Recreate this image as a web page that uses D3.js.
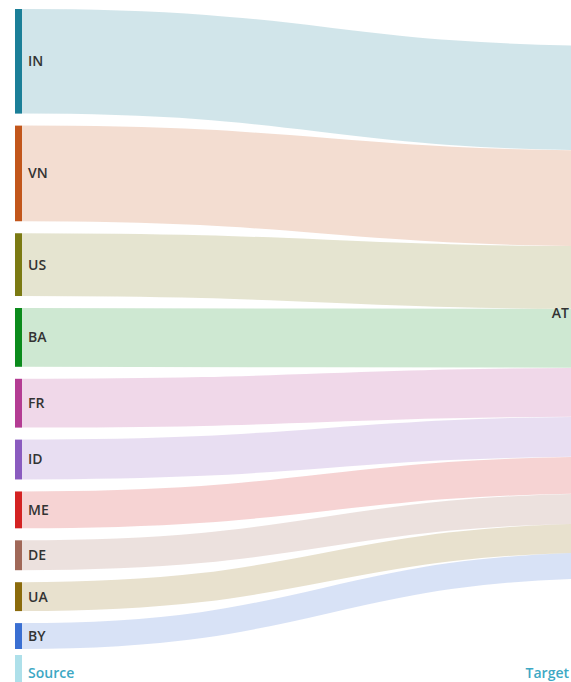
<!DOCTYPE html>
<html>
<head>
<meta charset="utf-8">
<script src="https://cdn.jsdelivr.net/npm/d3@7"></script>
<style>
  html, body { margin: 0; padding: 0; background: #fff; }
  svg { display: block; }
  text { font-family: "Open Sans", "Noto Sans", sans-serif; }
</style>
</head>
<body>
<svg id="chart" width="571" height="682"></svg>
<script>
// ---- data ----
const sources = ["IN", "VN", "US", "BA", "FR", "ID", "ME", "DE", "UA", "BY"];
const values  = [105, 96, 63, 59, 49, 40, 37, 30, 29, 26];
const target  = "AT";
const nodeColors = ["#1b7f98", "#c2561b", "#7b7a13", "#0b8b1c", "#b43c93", "#8a5bbf", "#d42222", "#a06858", "#8b6b0c", "#3a6fd2"];
const axisLabels = ["Source", "Target"];

// ---- layout ----
const svg = d3.select("#chart");
const yTop = 9, yBottom = 649, gap = 12;
const nodeW = 7;
const xSrc = 15, xTgt = 630;

const total = d3.sum(values);
const ky = d3.scaleLinear().domain([0, total]).range([0, (yBottom - yTop) - gap * (sources.length - 1)]);

const nodes = [];
let y = yTop;
sources.forEach((s, i) => {
  const h = ky(values[i]);
  nodes.push({ name: s, value: values[i], color: nodeColors[i], y0: y, y1: y + h });
  y += h + gap;
});

const tgtH = ky(total);
const tgtCenter = 312;
let ty = tgtCenter - tgtH / 2;
nodes.forEach(n => {
  const h = n.y1 - n.y0;
  n.ty0 = ty; n.ty1 = ty + h;
  ty += h;
});

const link = d3.linkHorizontal().x(d => d[0]).y(d => d[1]);

// links
svg.append("g").selectAll("path").data(nodes).join("path")
  .attr("d", n => link({ source: [xSrc + nodeW, (n.y0 + n.y1) / 2], target: [xTgt, (n.ty0 + n.ty1) / 2] }))
  .attr("fill", "none")
  .attr("stroke", n => n.color)
  .attr("stroke-opacity", 0.2)
  .attr("stroke-width", n => Math.max(1, n.y1 - n.y0));

// source nodes
svg.append("g").selectAll("rect").data(nodes).join("rect")
  .attr("x", xSrc).attr("width", nodeW)
  .attr("y", n => n.y0).attr("height", n => n.y1 - n.y0)
  .attr("fill", n => n.color);

// source labels
svg.append("g").selectAll("text").data(nodes).join("text")
  .attr("x", 28).attr("y", n => (n.y0 + n.y1) / 2)
  .attr("dy", "0.35em")
  .attr("font-size", 14).attr("font-weight", 600)
  .attr("fill", "#333")
  .text(n => n.name);

// target node (out of view) and label
svg.append("rect")
  .attr("x", xTgt).attr("width", nodeW)
  .attr("y", tgtCenter - tgtH / 2).attr("height", tgtH)
  .attr("fill", "#5b8fc7");
svg.append("text")
  .attr("x", 569).attr("y", 313)
  .attr("dy", "0.35em").attr("text-anchor", "end")
  .attr("font-size", 14).attr("font-weight", 600)
  .attr("fill", "#333")
  .text(target);

// bottom level labels
svg.append("rect").attr("x", xSrc).attr("y", 655).attr("width", nodeW).attr("height", 30).attr("fill", "#aee0ea");
svg.append("text").attr("x", 28).attr("y", 678)
  .attr("font-size", 14).attr("font-weight", 600).attr("fill", "#3da8c4")
  .text(axisLabels[0]);
svg.append("text").attr("x", 569).attr("y", 678).attr("text-anchor", "end")
  .attr("font-size", 14).attr("font-weight", 600).attr("fill", "#3da8c4")
  .text(axisLabels[1]);
</script>
</body>
</html>
